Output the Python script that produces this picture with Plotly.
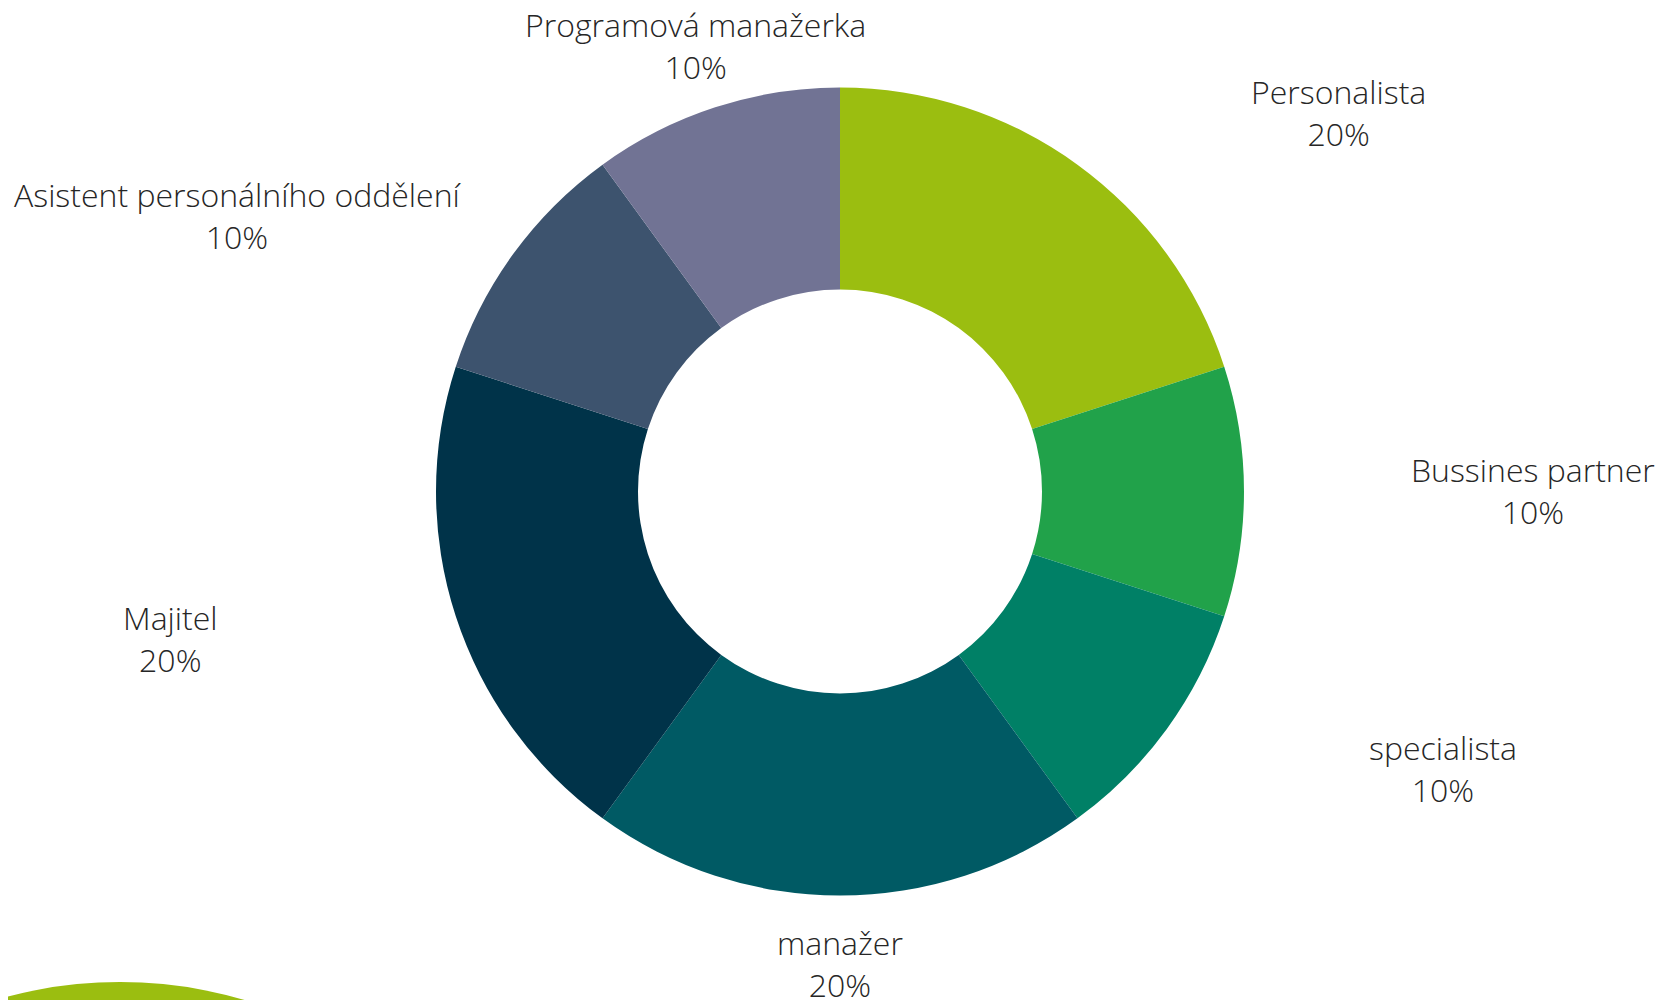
import plotly.graph_objects as go

# Data
categories = ["Personalista", "Bussines partner", "specialista", "manažer",
              "Majitel", "Asistent personálního oddělení", "Programová manažerka"]
values = [20, 10, 10, 20, 20, 10, 10]

# Styles
colors = ["#9BBE10", "#21A24A", "#008066", "#005A64", "#003349", "#3D536E", "#717394"]
# Label anchor positions (page pixels in a 1668x1000 window) - layout only
label_pos = [(1338, 112), (1533, 491), (1443, 768), (840, 963),
             (170, 638), (238, 215), (695, 45)]

OFF = 8  # default body margin of the html page
W, H = 1668 - OFF, 1000 - OFF
cx, cy, R = 840 - OFF, 491.5 - OFF, 404

fig = go.Figure()
fig.add_trace(go.Pie(
    labels=categories,
    values=values,
    hole=0.5,
    sort=False,
    direction="clockwise",
    rotation=0,
    marker=dict(colors=colors, line=dict(width=0)),
    textinfo="none",
    hoverinfo="label+percent",
    showlegend=False,
    domain=dict(x=[(cx - R) / W, (cx + R) / W],
                y=[(H - cy - R) / H, (H - cy + R) / H]),
))

total = sum(values)
for cat, v, (px, py) in zip(categories, values, label_pos):
    fig.add_annotation(
        x=(px - OFF) / W, y=1 - (py - OFF) / H, xref="paper", yref="paper",
        text=f"{cat}<br>{round(100 * v / total)}%",
        showarrow=False, xanchor="center", yanchor="middle",
        font=dict(family="Open Sans", size=32, color="#262626", weight=300),
        align="center",
    )

# decorative circle at bottom-left
gx, gy, gr = 120 - OFF, 1422 - OFF, 440
fig.add_shape(type="circle", xref="paper", yref="paper",
              x0=(gx - gr) / W, x1=(gx + gr) / W,
              y0=1 - (gy + gr) / H, y1=1 - (gy - gr) / H,
              fillcolor="#9BBE10", line=dict(width=0), layer="below")

fig.update_layout(
    width=W, height=H,
    margin=dict(l=0, r=0, t=0, b=0),
    paper_bgcolor="white", plot_bgcolor="white",
    xaxis=dict(visible=False, range=[0, 1]), yaxis=dict(visible=False, range=[0, 1]),
)

fig.write_html("out.html")
